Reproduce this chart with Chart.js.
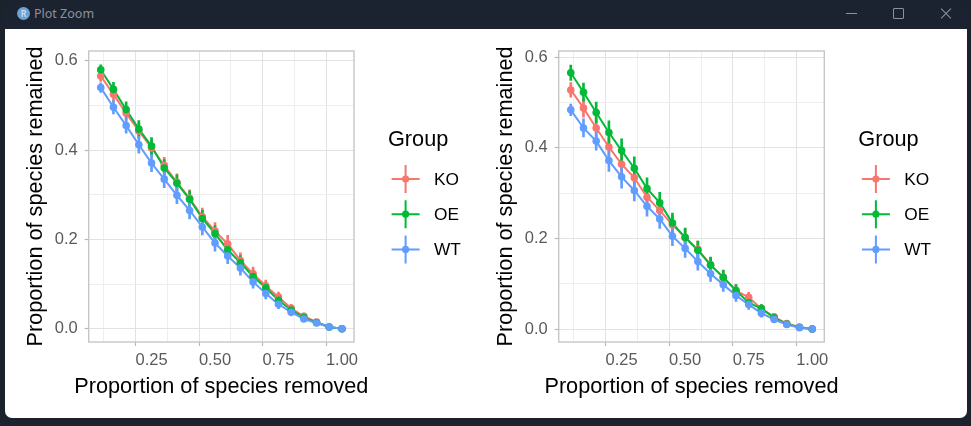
<!DOCTYPE html>
<html>
<head>
<meta charset="utf-8">
<title>Plot Zoom</title>
<script src="https://cdn.jsdelivr.net/npm/chart.js@4.4.1/dist/chart.umd.min.js"></script>
<style>
  html, body { margin: 0; padding: 0; }
  body { width: 971px; height: 426px; background: #1c222c; position: relative; overflow: hidden; }
  .titlebar { position: absolute; left: 3px; top: 0; width: 964px; height: 29px; background: #1b2230; border-radius: 7px 7px 0 0; }
  .icon { position: absolute; left: 14px; top: 7px; width: 13px; height: 13px; border-radius: 50%; background: #6ea2d6; color: #e8f0fa; font: 9px "Noto Sans", sans-serif; text-align: center; line-height: 13px; }
  .wintitle { position: absolute; left: 31px; top: 5px; font: 12.5px "Noto Sans", sans-serif; color: #8b929c; }
  .btn-min { position: absolute; left: 843px; top: 13px; width: 11px; height: 1px; background: #8b929c; }
  .btn-max { position: absolute; left: 890px; top: 8px; width: 9px; height: 9px; border: 1px solid #8b929c; border-radius: 1px; }
  .btn-x1, .btn-x2 { position: absolute; left: 936px; top: 13px; width: 14px; height: 1px; background: #8b929c; }
  .btn-x1 { transform: rotate(45deg); }
  .btn-x2 { transform: rotate(-45deg); }
  .content { position: absolute; left: 5px; top: 29px; width: 962px; height: 389px; background: #fff; border-radius: 0 0 7px 7px; }
  canvas { position: absolute; }
</style>
</head>
<body>
<div class="titlebar">
  <div class="icon">R</div>
  <div class="wintitle">Plot Zoom</div>
  <div class="btn-min"></div>
  <div class="btn-max"></div>
  <div class="btn-x1"></div>
  <div class="btn-x2"></div>
</div>
<div class="content"></div>
<canvas id="left" width="478" height="388" style="left:5px;top:29px"></canvas>
<canvas id="right" width="483" height="388" style="left:483px;top:29px"></canvas>

<script>
const FONT = '"Liberation Sans", Arial, sans-serif'

const X_VALUES = [0.05, 0.10, 0.15, 0.20, 0.25, 0.30, 0.35, 0.40, 0.45, 0.50,
  0.55, 0.60, 0.65, 0.70, 0.75, 0.80, 0.85, 0.90, 0.95, 1.00]
const GROUPS = ['KO', 'OE', 'WT']
const COLORS = ['#F8766D', '#00BA38', '#619CFF']

const X_TICKS = [0.25, 0.5, 0.75, 1.0]
const X_MINOR = [0.125, 0.375, 0.625, 0.875]
const Y_TICKS = [0, 0.2, 0.4, 0.6]
const Y_MINOR = [0.1, 0.3, 0.5]
const X_RANGE = [0.0025, 1.0475]
const X_TITLE = 'Proportion of species removed'
const Y_TITLE = 'Proportion of species remained'

// left panel
const KO_LEFT = [0.566, 0.525, 0.483, 0.443, 0.405, 0.366, 0.328, 0.292, 0.251, 0.219,
  0.190, 0.153, 0.123, 0.096, 0.071, 0.046, 0.028, 0.015, 0.004, 0.000]
const OE_LEFT = [0.580, 0.536, 0.491, 0.447, 0.409, 0.360, 0.326, 0.290, 0.247, 0.213,
  0.177, 0.148, 0.117, 0.092, 0.064, 0.042, 0.025, 0.014, 0.004, 0.000]
const WT_LEFT = [0.540, 0.496, 0.455, 0.412, 0.371, 0.335, 0.299, 0.265, 0.228, 0.192,
  0.163, 0.136, 0.105, 0.079, 0.055, 0.037, 0.022, 0.013, 0.004, 0.000]
const KO_LEFT_SE = [0.012, 0.016, 0.016, 0.018, 0.018, 0.018, 0.019, 0.019, 0.019, 0.019,
  0.019, 0.017, 0.015, 0.013, 0.011, 0.009, 0.007, 0.004, 0.002, 0]
const OE_LEFT_SE = [0.011, 0.016, 0.017, 0.019, 0.019, 0.019, 0.019, 0.019, 0.018, 0.018,
  0.017, 0.016, 0.014, 0.012, 0.010, 0.008, 0.006, 0.004, 0.002, 0]
const WT_LEFT_SE = [0.011, 0.015, 0.017, 0.019, 0.019, 0.019, 0.019, 0.019, 0.018, 0.018,
  0.017, 0.016, 0.014, 0.012, 0.010, 0.008, 0.006, 0.004, 0.002, 0]
const LEFT_Y_RANGE = [-0.0296, 0.622]

// right panel
const KO_RIGHT = [0.528, 0.488, 0.444, 0.402, 0.364, 0.334, 0.291, 0.262, 0.230, 0.202,
  0.176, 0.142, 0.114, 0.085, 0.070, 0.045, 0.027, 0.012, 0.004, 0.000]
const OE_RIGHT = [0.566, 0.523, 0.478, 0.434, 0.394, 0.355, 0.310, 0.279, 0.234, 0.202,
  0.174, 0.141, 0.114, 0.085, 0.058, 0.045, 0.025, 0.011, 0.004, 0.000]
const WT_RIGHT = [0.484, 0.444, 0.415, 0.372, 0.336, 0.306, 0.271, 0.243, 0.205, 0.178,
  0.149, 0.122, 0.098, 0.074, 0.054, 0.035, 0.021, 0.010, 0.003, 0.000]
const KO_RIGHT_SE = [0.016, 0.020, 0.021, 0.022, 0.022, 0.021, 0.021, 0.020, 0.020, 0.019,
  0.018, 0.016, 0.015, 0.013, 0.011, 0.009, 0.007, 0.004, 0.002, 0]
const OE_RIGHT_SE = [0.017, 0.020, 0.023, 0.026, 0.026, 0.025, 0.024, 0.023, 0.022, 0.021,
  0.020, 0.018, 0.016, 0.013, 0.011, 0.009, 0.007, 0.004, 0.002, 0]
const WT_RIGHT_SE = [0.013, 0.020, 0.020, 0.024, 0.025, 0.023, 0.022, 0.021, 0.021, 0.020,
  0.019, 0.017, 0.015, 0.013, 0.011, 0.009, 0.007, 0.004, 0.002, 0]
const RIGHT_Y_RANGE = [-0.0287, 0.614]

// grey panel border like ggplot theme_light
const panelFrame = {
  id: 'panelFrame',
  afterDraw(chart) {
    const { ctx, chartArea: a } = chart
    ctx.save()
    ctx.strokeStyle = '#c6c6c6'
    ctx.lineWidth = 1.4
    ctx.strokeRect(a.left, a.top, a.right - a.left, a.bottom - a.top)
    ctx.restore()
  },
}

// axis titles drawn by hand: chart.js squeezes titles to the axis length
const axisTitles = {
  id: 'axisTitles',
  afterDraw(chart) {
    const { ctx, chartArea: a } = chart
    ctx.save()
    ctx.fillStyle = '#000'
    ctx.font = `21.7px ${FONT}`
    ctx.textAlign = 'center'
    ctx.textBaseline = 'middle'
    ctx.fillText(X_TITLE, (a.left + a.right) / 2, a.bottom + 44.7)
    ctx.translate(a.left - 52.4, (a.top + a.bottom) / 2)
    ctx.rotate(-Math.PI / 2)
    ctx.fillText(Y_TITLE, 0, 0)
    ctx.restore()
  },
}

// "Group" legend with line + pointrange keys
const groupLegend = {
  id: 'groupLegend',
  afterDraw(chart) {
    const { ctx, chartArea } = chart
    const r = chartArea.right
    ctx.save()
    ctx.textBaseline = 'middle'
    ctx.textAlign = 'left'
    ctx.fillStyle = '#000'
    ctx.font = `21.7px ${FONT}`
    ctx.fillText('Group', r + 34, 111)
    GROUPS.forEach((g, i) => {
      const y = 150 + i * 35.2
      const cx = r + 51.6
      ctx.strokeStyle = COLORS[i]
      ctx.fillStyle = COLORS[i]
      ctx.lineWidth = 2
      ctx.beginPath()
      ctx.moveTo(cx - 14, y)
      ctx.lineTo(cx + 14, y)
      ctx.moveTo(cx, y - 14)
      ctx.lineTo(cx, y + 14)
      ctx.stroke()
      ctx.beginPath()
      ctx.arc(cx, y, 3.6, 0, Math.PI * 2)
      ctx.fill()
      ctx.fillStyle = '#000'
      ctx.font = `17.3px ${FONT}`
      ctx.fillText(g, r + 80, y + 1)
    })
    ctx.restore()
  },
}

function gridColor(major) {
  return (c) => (c.tick && major.includes(c.tick.value) ? '#e2e2e2' : '#eeeeee')
}
function tickColor(major) {
  return (c) => (c.tick && major.includes(c.tick.value) ? '#b8b8b8' : 'rgba(0,0,0,0)')
}

function drawPanel(selector, series, errors, yRange, pad, yWidth) {
  const datasets = []
  // connecting lines (bottom)
  series.forEach((values, i) => {
    datasets.push({
      type: 'line',
      label: GROUPS[i],
      data: X_VALUES.map((x, k) => ({ x, y: values[k] })),
      borderColor: COLORS[i],
      borderWidth: 2,
      pointRadius: 0,
      tension: 0,
      order: 9 - i,
    })
  })
  // error ranges
  series.forEach((values, i) => {
    datasets.push({
      type: 'bar',
      label: GROUPS[i] + ' range',
      data: X_VALUES.map((x, k) => ({ x, y: [values[k] - errors[i][k], values[k] + errors[i][k]] })),
      backgroundColor: COLORS[i],
      borderWidth: 0,
      barThickness: 2,
      grouped: false,
      order: 6 - i,
    })
  })
  // points (top)
  series.forEach((values, i) => {
    datasets.push({
      type: 'line',
      label: GROUPS[i] + ' mean',
      data: X_VALUES.map((x, k) => ({ x, y: values[k] })),
      showLine: false,
      pointRadius: 3.8,
      pointBorderWidth: 0,
      pointBackgroundColor: COLORS[i],
      order: 3 - i,
    })
  })

  return new Chart(document.querySelector(selector), {
    type: 'line',
    data: { datasets },
    plugins: [panelFrame, axisTitles, groupLegend],
    options: {
      responsive: false,
      animation: false,
      layout: { padding: pad },
      plugins: { legend: { display: false }, tooltip: { enabled: false } },
      scales: {
        x: {
          type: 'linear',
          min: X_RANGE[0],
          max: X_RANGE[1],
          offset: false,
          afterBuildTicks: (s) => { s.ticks = [...X_MINOR, ...X_TICKS].sort((a, b) => a - b).map((value) => ({ value })) },
          afterFit: (s) => { s.height = 61.7 },
          ticks: {
            autoSkip: false,
            maxRotation: 0,
            padding: 5,
            color: '#5a5a5a',
            font: { family: FONT, size: 16.5 },
            callback: (v) => (X_TICKS.includes(v) ? v.toFixed(2) : ''),
          },
          grid: { color: gridColor(X_TICKS), lineWidth: 1, tickLength: 4, tickColor: tickColor(X_TICKS), tickWidth: 1.2 },
          border: { display: false },
          title: { display: false },
        },
        y: {
          type: 'linear',
          min: yRange[0],
          max: yRange[1],
          afterBuildTicks: (s) => { s.ticks = [...Y_MINOR, ...Y_TICKS].sort((a, b) => a - b).map((value) => ({ value })) },
          afterFit: (s) => { s.width = yWidth },
          ticks: {
            autoSkip: false,
            padding: 7,
            color: '#5a5a5a',
            font: { family: FONT, size: 16.5 },
            callback: (v) => (Y_TICKS.includes(v) ? v.toFixed(1) : ''),
          },
          grid: { color: gridColor(Y_TICKS), lineWidth: 1, tickLength: 4, tickColor: tickColor(Y_TICKS), tickWidth: 1.2 },
          border: { display: false },
          title: { display: false },
        },
      },
    },
  })
}

drawPanel('#left',
  [KO_LEFT, OE_LEFT, WT_LEFT],
  [KO_LEFT_SE, OE_LEFT_SE, WT_LEFT_SE],
  LEFT_Y_RANGE,
  { left: 14, right: 129, top: 22, bottom: 13.3 },
  69.7)

drawPanel('#right',
  [KO_RIGHT, OE_RIGHT, WT_RIGHT],
  [KO_RIGHT_SE, OE_RIGHT_SE, WT_RIGHT_SE],
  RIGHT_Y_RANGE,
  { left: 6.7, right: 141.7, top: 22, bottom: 13.3 },
  69)
</script>
</body>
</html>
